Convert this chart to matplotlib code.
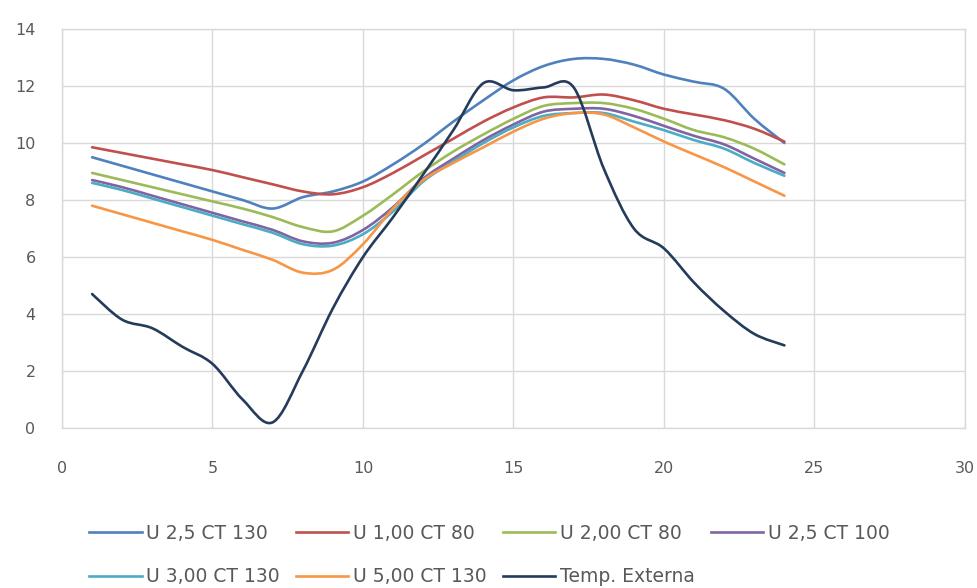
import matplotlib
matplotlib.use("Agg")
import matplotlib.pyplot as plt
from matplotlib.path import Path
from matplotlib.patches import PathPatch
from matplotlib.lines import Line2D
import numpy as np

hours = list(range(1, 25))

u25_ct130 = [9.5, 9.2, 8.9, 8.6, 8.3, 8.0, 7.7, 8.1, 8.3, 8.65, 9.25, 9.95, 10.75, 11.5,
             12.2, 12.7, 12.95, 12.95, 12.75, 12.4, 12.15, 11.9, 10.85, 10.0]
u100_ct80 = [9.85, 9.65, 9.45, 9.25, 9.05, 8.8, 8.55, 8.3, 8.2, 8.45, 8.95, 9.55, 10.15, 10.75,
             11.25, 11.6, 11.6, 11.7, 11.5, 11.2, 11.0, 10.8, 10.5, 10.05]
u200_ct80 = [8.95, 8.7, 8.45, 8.2, 7.95, 7.7, 7.4, 7.05, 6.9, 7.45, 8.2, 9.0, 9.7, 10.3,
             10.85, 11.3, 11.4, 11.4, 11.2, 10.85, 10.45, 10.2, 9.8, 9.25]
u25_ct100 = [8.7, 8.45, 8.15, 7.85, 7.55, 7.25, 6.95, 6.55, 6.5, 6.95, 7.75, 8.75, 9.45, 10.1,
             10.65, 11.1, 11.2, 11.2, 10.95, 10.6, 10.25, 9.95, 9.45, 8.95]
u300_ct130 = [8.6, 8.35, 8.05, 7.75, 7.45, 7.15, 6.85, 6.45, 6.4, 6.8, 7.6, 8.65, 9.35, 10.0,
              10.55, 10.95, 11.05, 11.05, 10.75, 10.45, 10.1, 9.8, 9.3, 8.85]
u500_ct130 = [7.8, 7.5, 7.2, 6.9, 6.6, 6.25, 5.9, 5.45, 5.55, 6.45, 7.7, 8.7, 9.3, 9.85,
              10.4, 10.85, 11.05, 11.0, 10.55, 10.05, 9.6, 9.15, 8.65, 8.15]
temp_externa = [4.7, 3.8, 3.5, 2.85, 2.25, 1.0, 0.2, 2.0, 4.2, 6.0, 7.4, 8.9, 10.45, 12.1,
                11.85, 11.95, 11.95, 9.1, 7.0, 6.3, 5.1, 4.1, 3.3, 2.9]

series = [
    ("U 2,5 CT 130", u25_ct130, "#4F81BD"),
    ("U 1,00 CT 80", u100_ct80, "#C0504D"),
    ("U 2,00 CT 80", u200_ct80, "#9BBB59"),
    ("U 2,5 CT 100", u25_ct100, "#8064A2"),
    ("U 3,00 CT 130", u300_ct130, "#4BACC6"),
    ("U 5,00 CT 130", u500_ct130, "#F79646"),
    ("Temp. Externa", temp_externa, "#243B5C"),
]


def smooth_path(xs, ys):
    # cubic bezier through every point (catmull-rom style tangents)
    pts = np.column_stack([xs, ys]).astype(float)
    n = len(pts)
    verts = [pts[0]]
    codes = [Path.MOVETO]
    for i in range(n - 1):
        p0 = pts[max(i - 1, 0)]
        p1 = pts[i]
        p2 = pts[i + 1]
        p3 = pts[min(i + 2, n - 1)]
        c1 = p1 + (p2 - p0) / 6.0
        c2 = p2 - (p3 - p1) / 6.0
        verts += [c1, c2, p2]
        codes += [Path.CURVE4] * 3
    return Path(verts, codes)


plt.rcParams['font.family'] = ['DejaVu Sans']
grey = "#595959"
grid_col = "#D9D9D9"

fig = plt.figure(figsize=(9.78, 5.88), dpi=100)
ax = fig.add_axes([62 / 978, 1 - 428 / 588, (965 - 62) / 978, (428 - 29) / 588])

handles = []
for name, vals, col in series:
    patch = PathPatch(smooth_path(hours, vals), fill=False, edgecolor=col, lw=1.9,
                      capstyle='round', joinstyle='round')
    ax.add_patch(patch)
    handles.append(Line2D([], [], color=col, lw=1.9, label=name))

ax.set_xlim(0, 30)
ax.set_ylim(0, 14)
ax.set_xticks(range(0, 31, 5))
ax.set_yticks(range(0, 15, 2))
ax.grid(True, color=grid_col, lw=1.0)
ax.set_axisbelow(True)
for sp in ax.spines.values():
    sp.set_color(grid_col)
    sp.set_linewidth(1.0)
ax.tick_params(axis='both', length=0, colors=grey, labelsize=11.5)
ax.tick_params(axis='x', pad=24)
ax.tick_params(axis='y', pad=19)

# legend laid out row by row: 4 entries on top, 3 below
order = [0, 4, 1, 5, 2, 6, 3]
fig.legend([handles[i] for i in order], [handles[i].get_label() for i in order],
           ncol=4, loc='upper left', bbox_to_anchor=(89 / 978, 1 - 524 / 588),
           frameon=False, fontsize=13.5, labelcolor=grey, handlelength=2.8,
           handletextpad=0.25, columnspacing=0.85, labelspacing=1.3,
           borderaxespad=0, borderpad=0)

fig.savefig("out.png", dpi=100)
